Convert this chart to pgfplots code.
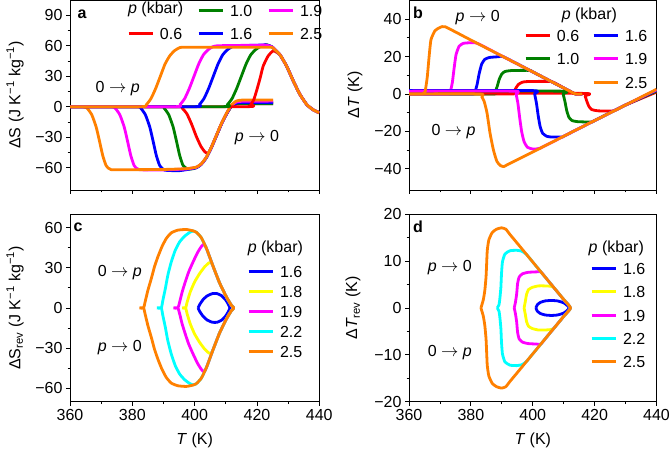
\documentclass[border=0pt]{standalone}
\usepackage{fontspec}
\setmainfont{Liberation Sans}
\usepackage{pgfplots}
\pgfplotsset{compat=1.18}
\newcommand{\fs}{\fontsize{16}{19}\selectfont}
\newcommand{\ar}{$\rightarrow$}
\definecolor{cOr}{RGB}{255,128,0}
\definecolor{cGr}{RGB}{0,128,0}
\definecolor{cBl}{RGB}{0,0,255}
\definecolor{cMa}{RGB}{255,0,255}
\definecolor{cRe}{RGB}{255,0,0}
\definecolor{cYe}{RGB}{255,255,0}
\definecolor{cCy}{RGB}{0,255,255}
\pgfplotsset{
  pl/.style={line width=2.8pt, line join=round, smooth, tension=0.3},
  base/.style={scale only axis, xmin=360, xmax=440, xtick={360,380,...,440}, minor x tick num=1,
    tick align=outside, tick pos=left, major tick length=4pt, minor tick length=2.5pt,
    axis line style={line width=0.8pt}, every tick/.style={black, line width=0.8pt},
    tick label style={font=\fs}, label style={font=\fs},
    legend style={draw=none, fill=none, font=\fs, inner sep=0pt,
      nodes={inner sep=1pt, text height=12pt, text depth=0pt}, /tikz/column sep=5pt},
    legend cell align=left,
    legend image code/.code={\draw[##1, line width=2.8pt] (0pt,0pt) -- (24pt,0pt);},
  },
}
\begin{document}
\begin{tikzpicture}[x=1pt,y=1pt]
\path[use as bounding box] (0,0) rectangle (671,450);
% ---------------- panel a
\begin{axis}[base, at={(70pt,260pt)}, anchor=south west, width=249.3pt, height=190pt,
  ymin=-82, ymax=105, ytick={-60,-30,...,90}, yticklabels={−60,−30,0,30,60,90}, minor y tick num=1,
  xticklabels={},
  ylabel={ΔS (J K\textsuperscript{−1} kg\textsuperscript{−1})},
  every axis y label/.style={at={(axis description cs:-0.2206,0.5)}, rotate=90, anchor=center, font=\fs},
  legend columns=3,
  legend style={at={(axis description cs:0.2286,0.984)}, anchor=north west, row sep=9pt,
    /tikz/every even column/.append style={column sep=14pt}},
]
% p->0 (lower)
\addplot[pl, cRe, forget plot] coordinates {(360,0)(394.5,0)(396,-1.5)(397.5,-7)(399,-17)(400.5,-29)(402,-39)(403.3,-44.5)(404.3,-46)(405.4,-40)(407,-28.5)(408.6,-17)(410.2,-7.3)(411.8,0.5)(413.4,2.5)(415.6,3)(425.2,3)};
\addplot[pl, cGr, forget plot] coordinates {(360,0)(388.7,0)(390.2,-1.5)(391.7,-8)(393.1,-20)(394.1,-33)(395.2,-48)(396.3,-58)(397.9,-61.5)(399.5,-61)(400.6,-60)(402.2,-56.5)(403.8,-50)(405.4,-40)(407,-28.5)(408.6,-17)(410.2,-7.3)(411.8,0.5)(413.4,2.8)(415.6,3)(425.2,3)};
\addplot[pl, cBl, forget plot] coordinates {(360,0)(381.2,0)(382.7,-1.5)(384.2,-8)(385.6,-20)(386.6,-33)(387.7,-48)(388.8,-58)(390.4,-62.5)(395,-63)(397.3,-62)(400.6,-60)(402.2,-56.5)(403.8,-50)(405.4,-40)(407,-28.5)(408.6,-17)(410.2,-7.3)(411.8,0.8)(413.4,3.5)(415.6,4)(425.2,4)};
\addplot[pl, cMa, forget plot] coordinates {(360,0)(373,0)(374.5,-1.5)(376,-8)(377.4,-20)(378.4,-33)(379.5,-48)(380.6,-58)(382.2,-62)(390,-62.2)(397.3,-61.3)(400.6,-59.6)(402.2,-56.2)(403.8,-49.7)(405.4,-39.8)(407,-28.2)(408.6,-16.8)(410.2,-7)(411.8,1.2)(413.4,4.6)(415.6,5.4)(425.2,5.5)};
\addplot[pl, cOr, forget plot] coordinates {(360,0)(364,0)(365.5,-1.5)(367,-8)(368.4,-20)(369.4,-33)(370.5,-48)(371.6,-58)(373.2,-62)(380,-62)(390,-61.8)(397.3,-61)(400.6,-59.4)(402.2,-56)(403.8,-49.5)(405.4,-39.6)(407,-28)(408.6,-16.5)(410.2,-6.6)(411.8,1.7)(413.4,5.6)(415.6,6.6)(425.2,6.6)};
% 0->p (upper)
\addplot[pl, cRe, forget plot] coordinates {(360,0)(416.5,0)(418,2)(419,7)(420,17)(421,28)(422,40)(423.6,50)(425.2,55)(426.3,53.5)(427.4,51)(429.5,40)(431.7,25)(433.8,12)(436,2)(438,-3)(440,-6)};
\addplot[pl, cGr, forget plot] coordinates {(360,0)(409,0)(410.5,2)(412,8)(413.5,18)(415,30)(416.5,42)(418,51)(419.5,56)(421,59)(423,61)(425,58.5)(427.4,51)(429.5,40)(431.7,25)(433.8,12)(436,2)(438,-3)(440,-6)};
\addplot[pl, cBl, forget plot] coordinates {(360,0)(400,0)(401.5,2)(403,8)(404.5,18)(406,30)(407.5,42)(409,51)(410.5,56)(412,59)(414,60)(420,60.5)(423,60.8)(425,58.5)(427.4,51)(429.5,40)(431.7,25)(433.8,12)(436,2)(438,-3)(440,-6)};
\addplot[pl, cMa, forget plot] coordinates {(360,0)(393.8,0)(395.3,2)(396.8,8)(398.3,18)(399.8,30)(401.3,42)(402.8,51)(404.3,56)(405.8,59)(407.8,60)(420,60.5)(423,60.5)(425,58.5)(427.4,51)(429.5,40)(431.7,25)(433.8,12)(436,2)(438,-3)(440,-6)};
\addplot[pl, cOr, forget plot] coordinates {(360,0)(383,0)(384.5,2)(386,8)(387.5,18)(389,30)(390.5,42)(392,50)(393.5,55)(395,57.8)(397,58.5)(423,58.5)(425,58)(427.4,51)(429.5,40)(431.7,25)(433.8,12)(436,2)(438,-3)(440,-6)};
\addlegendimage{empty legend}\addlegendentry{}
\addlegendimage{cGr}\addlegendentry{1.0}
\addlegendimage{cMa}\addlegendentry{1.9}
\addlegendimage{cRe}\addlegendentry{0.6}
\addlegendimage{cBl}\addlegendentry{1.6}
\addlegendimage{cOr}\addlegendentry{2.5}
\node[font=\fs] at (axis cs:387.5,95.7) {\textit{p} (kbar)};
\node[font=\fs\bfseries] at (axis cs:363.9,91) {a};
\node[font=\fs] at (axis cs:375.3,17.5) {0 \ar\ \textit{p}};
\node[font=\fs] at (axis cs:420,-30) {\textit{p} \ar\ 0};
\end{axis}
% ---------------- panel b
\begin{axis}[base, at={(409pt,260pt)}, anchor=south west, width=247.5pt, height=190pt,
  ymin=-51.3, ymax=50.2, ytick={-40,-20,...,40}, yticklabels={−40,−20,0,20,40}, minor y tick num=1,
  xticklabels={},
  ylabel={Δ\textit{T} (K)},
  every axis y label/.style={at={(axis description cs:-0.218,0.5)}, rotate=90, anchor=center, font=\fs},
  legend columns=2,
  legend style={at={(axis description cs:0.4646,0.8526)}, anchor=north west, row sep=9.5pt,
    /tikz/every even column/.append style={column sep=12pt}},
]
% p->0 (upper)
\addplot[pl, cRe, forget plot] coordinates {(360,0)(393,0)(393.8,1)(394.5,3)(395.3,5)(396.5,6.2)(398,6.6)(406,6.6)(410,3.2)(413.8,0)(416,0)};
\addplot[pl, cGr, forget plot] coordinates {(360,0)(387,0)(387.8,1)(388.5,4)(389.2,8)(390,10.7)(391,12)(393,12.5)(399,12.6)(400,11.8)(410,3.2)(413.8,0)(416,0)};
\addplot[pl, cBl, forget plot] coordinates {(360,0)(380.5,0)(381.3,1)(382,5)(382.7,11)(383.5,16)(384.5,18.5)(386,19.5)(389,19.9)(390.5,19.9)(400,11.8)(410,3.2)(413.8,0)(416,0)};
\addplot[pl, cMa, forget plot] coordinates {(360,0)(372.5,0)(373.3,1)(374,6)(374.6,14)(375.2,21)(376.2,25.5)(377.5,27)(379,27.3)(382,27.1)(390,20.3)(400,11.8)(410,3.2)(413.8,0)(416,0)};
% 0->p (lower)
\addplot[pl, cRe, forget plot] coordinates {(360,0.3)(416.3,0.3)(416.9,-1)(417.5,-4)(418.1,-6.5)(419,-8.3)(421,-9)(426.2,-9)(430,-5.9)(440,1)};
\addplot[pl, cGr, forget plot] coordinates {(360,1.5)(409.2,1.5)(409.8,0)(410.4,-4)(411,-9)(411.7,-12.5)(412.7,-14.2)(414.5,-14.8)(419.1,-15)(420,-14.2)(430,-5.9)(440,1.5)};
\addplot[pl, cBl, forget plot] coordinates {(360,1.8)(400,1.8)(400.6,0)(401.2,-5)(401.8,-12)(402.4,-17.5)(403.2,-21)(404.5,-22.6)(406,-23)(409.5,-23)(410,-22.6)(420,-14.2)(430,-5.9)(440,2)};
\addplot[pl, cMa, forget plot] coordinates {(360,1.5)(394,1.5)(394.6,0)(395.2,-5)(395.8,-13)(396.4,-20)(397.2,-25.5)(398.3,-28.5)(400,-29.4)(402.3,-29.0)(410,-22.6)(420,-14.2)(430,-5.9)(440,2.2)};
\addplot[pl, cOr, forget plot] coordinates {(360,0)(383,0)(383.5,-1.4)(384.3,-4)(385.2,-10)(386.2,-21)(387.3,-30)(388.4,-36)(389.5,-38.2)(390.6,-38.8)(392,-37.6)(400,-31)(410,-22.6)(420,-14.2)(430,-5.9)(440,2.5)};
\addplot[pl, cOr, forget plot] coordinates {(360,0)(364.5,0)(365.2,1.2)(365.9,9)(366.5,20)(367.1,29)(368.4,33.8)(370,35.5)(371.7,35.9)(380,28.8)(390,20.3)(400,11.8)(410,3.2)(413.8,0)(416,0)};
\addlegendimage{cRe}\addlegendentry{0.6}
\addlegendimage{cBl}\addlegendentry{1.6}
\addlegendimage{cGr}\addlegendentry{1.0}
\addlegendimage{cMa}\addlegendentry{1.9}
\addlegendimage{empty legend}\addlegendentry{}
\addlegendimage{cOr}\addlegendentry{2.5}
\node[font=\fs] at (axis cs:418.3,42.1) {\textit{p} (kbar)};
\node[font=\fs\bfseries] at (axis cs:362.9,43.2) {b};
\node[font=\fs] at (axis cs:382.2,41) {\textit{p} \ar\ 0};
\node[font=\fs] at (axis cs:374.4,-20.3) {0 \ar\ \textit{p}};
\end{axis}
% ---------------- panel c
\begin{axis}[base, at={(70pt,48.3pt)}, anchor=south west, width=249.3pt, height=187.5pt,
  ymin=-70, ymax=70, ytick={-60,-30,...,60}, yticklabels={−60,−30,0,30,60}, minor y tick num=1,
  xticklabels={360,380,400,420,440},
  xlabel={\textit{T} (K)},
  every axis x label/.style={at={(axis description cs:0.5,-0.204)}, anchor=center, font=\fs},
  ylabel={ΔS\textsubscript{rev} (J K\textsuperscript{−1} kg\textsuperscript{−1})},
  every axis y label/.style={at={(axis description cs:-0.2206,0.5)}, rotate=90, anchor=center, font=\fs},
  legend style={at={(axis description cs:0.71,0.734)}, anchor=north west, row sep=6pt},
]
\addplot[pl, cBl] coordinates {(401.1,0)(401.6,2.5)(402.7,6.2)(404.0,9)(405.7,10.7)(407.2,10.7)(408.6,9.2)(409.9,6.2)(410.7,3.2)(411.3,0)(410.7,-3.2)(409.9,-6.2)(408.6,-9.2)(407.2,-10.7)(405.7,-10.7)(404.0,-9)(402.7,-6.2)(401.6,-2.5)(401.1,0)};
\addlegendentry{1.6}
\addplot[pl, cYe] coordinates {(396.0,0)(397.1,0)(397.6,4.5)(398.6,12)(400.0,19.5)(401.6,25.7)(403.2,30.7)(404.6,33.7)(405.3,33.9)(405.9,31.2)(408.0,18.7)(410.2,8.2)(411.8,2)(412.6,0)(411.8,-2)(410.2,-8.2)(408.0,-18.7)(405.9,-31.2)(405.3,-33.9)(404.6,-33.7)(403.2,-30.7)(401.6,-25.7)(400.0,-19.5)(398.6,-12)(397.6,-4.5)(397.1,0)(396.0,0)};
\addlegendentry{1.8}
\addplot[pl, cMa] coordinates {(393.2,0)(394.6,0)(395.2,4.5)(396.0,12)(397.0,19.5)(398.1,27)(399.5,34.4)(400.9,41.2)(402.1,45.7)(403.0,47.7)(403.8,44.4)(405.9,31.2)(408.0,18.7)(410.2,8.2)(411.8,2)(412.6,0)(411.8,-2)(410.2,-8.2)(408.0,-18.7)(405.9,-31.2)(403.8,-44.4)(403.0,-47.7)(402.1,-45.7)(400.9,-41.2)(399.5,-34.4)(398.1,-27)(397.0,-19.5)(396.0,-12)(395.2,-4.5)(394.6,0)(393.2,0)};
\addlegendentry{1.9}
\addplot[pl, cCy] coordinates {(387.9,0)(389.3,0)(389.8,5.7)(390.6,14.5)(391.4,24.5)(392.5,34.4)(393.8,43.2)(395.2,49.4)(396.8,53.6)(398.4,56.4)(399.5,57.4)(400.5,56.6)(402.1,52.6)(403.8,44.4)(405.9,31.2)(408.0,18.7)(410.2,8.2)(411.8,2)(412.6,0)(411.8,-2)(410.2,-8.2)(408.0,-18.7)(405.9,-31.2)(403.8,-44.4)(402.1,-52.6)(400.5,-56.6)(399.5,-57.4)(398.4,-56.4)(396.8,-53.6)(395.2,-49.4)(393.8,-43.2)(392.5,-34.4)(391.4,-24.5)(390.6,-14.5)(389.8,-5.7)(389.3,0)(387.9,0)};
\addlegendentry{2.2}
\addplot[pl, cOr] coordinates {(382.3,0)(383.6,0)(384.1,4.5)(385.0,13.2)(386.1,22)(387.1,30.7)(388.2,38.2)(389.5,45.7)(390.9,51.9)(392.5,56.1)(394.6,58.1)(397.3,58.6)(399.5,57.6)(400.5,56.6)(402.1,52.6)(403.8,44.4)(405.9,31.2)(408.0,18.7)(410.2,8.2)(411.8,2)(412.6,0)(411.8,-2)(410.2,-8.2)(408.0,-18.7)(405.9,-31.2)(403.8,-44.4)(402.1,-52.6)(400.5,-56.6)(399.5,-57.6)(397.3,-58.6)(394.6,-58.1)(392.5,-56.1)(390.9,-51.9)(389.5,-45.7)(388.2,-38.2)(387.1,-30.7)(386.1,-22)(385.0,-13.2)(384.1,-4.5)(383.6,0)(382.3,0)};
\addlegendentry{2.5}
\node[font=\fs] at (axis cs:425.9,44.5) {\textit{p} (kbar)};
\node[font=\fs\bfseries] at (axis cs:362.6,60.4) {c};
\node[font=\fs] at (axis cs:376,26.7) {0 \ar\ \textit{p}};
\node[font=\fs] at (axis cs:376,-29.4) {\textit{p} \ar\ 0};
\end{axis}
% ---------------- panel d
\begin{axis}[base, at={(409pt,48.3pt)}, anchor=south west, width=247.5pt, height=187.5pt,
  ymin=-20, ymax=20, ytick={-20,-10,...,20}, yticklabels={−20,−10,0,10,20}, minor y tick num=1,
  xticklabels={360,380,400,420,440},
  xlabel={\textit{T} (K)},
  every axis x label/.style={at={(axis description cs:0.5,-0.204)}, anchor=center, font=\fs},
  ylabel={Δ\textit{T}\textsubscript{rev} (K)},
  every axis y label/.style={at={(axis description cs:-0.226,0.5)}, rotate=90, anchor=center, font=\fs},
  legend style={at={(axis description cs:0.7313,0.7488)}, anchor=north west, row sep=9.3pt},
]
\addplot[pl, cBl] coordinates {(401,0)(401.5,0.7)(402.5,1.2)(404,1.5)(406,1.6)(408,1.5)(410,1.1)(411.2,0.5)(411.8,0)(411.2,-0.5)(410,-1.1)(408,-1.5)(406,-1.6)(404,-1.5)(402.5,-1.2)(401.5,-0.7)(401,0)};
\addlegendentry{1.6}
\addplot[pl, cYe] coordinates {(397.2,0)(397.6,1.4)(398.0,2.9)(398.6,3.9)(399.9,4.4)(401.8,4.7)(403.9,4.7)(406.6,4.45)(410,1.8)(412.2,0)(410,-1.8)(406.6,-4.45)(403.9,-4.7)(401.8,-4.7)(399.9,-4.4)(398.6,-3.9)(398.0,-2.9)(397.6,-1.4)(397.2,0)};
\addlegendentry{1.8}
\addplot[pl, cMa] coordinates {(394.0,0)(394.4,1.2)(394.8,3)(395.1,5.2)(395.6,6.6)(396.7,7.3)(398.5,7.6)(401.2,7.7)(402.6,7.7)(405,5.8)(410,1.8)(412.2,0)(410,-1.8)(405,-5.8)(402.6,-7.7)(401.2,-7.7)(398.5,-7.6)(396.7,-7.3)(395.6,-6.6)(395.1,-5.2)(394.8,-3)(394.4,-1.2)(394.0,0)};
\addlegendentry{1.9}
\addplot[pl, cCy] coordinates {(388.5,0)(389.1,0.7)(389.4,2.2)(389.7,4.4)(389.9,7.3)(390.2,9.8)(391.0,11.5)(392.6,12.2)(394.8,12.3)(396.5,12.1)(398,11.4)(400,9.8)(405,5.8)(410,1.8)(412.2,0)(410,-1.8)(405,-5.8)(400,-9.8)(398,-11.4)(396.5,-12.1)(394.8,-12.3)(392.6,-12.2)(391.0,-11.5)(390.2,-9.8)(389.9,-7.3)(389.7,-4.4)(389.4,-2.2)(389.1,-0.7)(388.5,0)};
\addlegendentry{2.2}
\addplot[pl, cOr] coordinates {(383.25,0)(384.0,1.7)(384.5,3.7)(384.9,6.6)(385.1,9.5)(385.3,12.3)(385.8,14.5)(386.9,16.1)(388.3,16.8)(389.9,17.1)(391.3,16.8)(392.6,15.7)(395,13.8)(400,9.8)(405,5.8)(410,1.8)(412.2,0)(410,-1.8)(405,-5.8)(400,-9.8)(395,-13.8)(392.6,-15.7)(391.3,-16.8)(389.9,-17.1)(388.3,-16.8)(386.9,-16.1)(385.8,-14.5)(385.3,-12.3)(385.1,-9.5)(384.9,-6.6)(384.5,-3.7)(384.0,-1.7)(383.25,0)};
\addlegendentry{2.5}
\node[font=\fs] at (axis cs:427.0,12.7) {\textit{p} (kbar)};
\node[font=\fs\bfseries] at (axis cs:362.9,17.3) {d};
\node[font=\fs] at (axis cs:373.2,8.7) {\textit{p} \ar\ 0};
\node[font=\fs] at (axis cs:373.2,-9.6) {0 \ar\ \textit{p}};
\end{axis}
\end{tikzpicture}
\end{document}
